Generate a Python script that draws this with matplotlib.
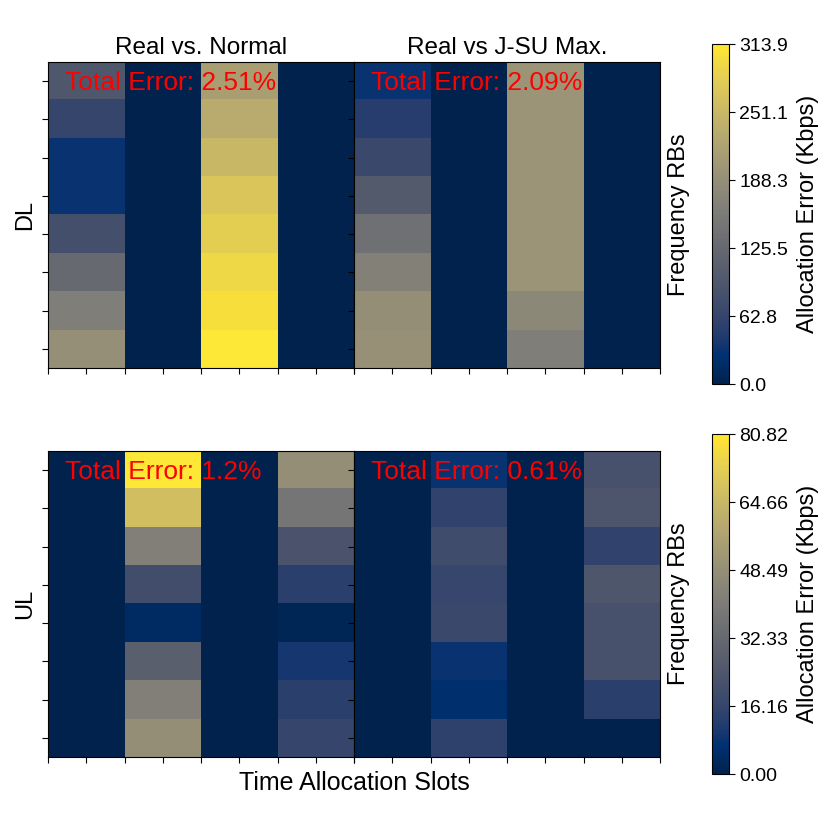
import numpy as np
import matplotlib
matplotlib.use('Agg')
import matplotlib.pyplot as plt

plt.rcParams['font.family'] = ['Liberation Sans', 'DejaVu Sans']

# rows = frequency RBs (top to bottom), columns = time allocation slots
dl_max = 313.87
ul_max = 80.82

dl_normal = np.array([
    [ 95, 0, 214, 0],
    [ 63, 0, 232, 0],
    [ 31, 0, 251, 0],
    [ 31, 0, 270, 0],
    [ 80, 0, 283, 0],
    [126, 0, 295, 0],
    [163, 0, 304, 0],
    [190, 0, 313.87, 0],
])
dl_jsu = np.array([
    [ 31, 0, 198, 0],
    [ 50, 0, 198, 0],
    [ 69, 0, 198, 0],
    [100, 0, 198, 0],
    [138, 0, 198, 0],
    [166, 0, 198, 0],
    [188, 0, 179, 0],
    [192, 0, 163, 0],
])
ul_normal = np.array([
    [0, 80.82, 0, 48.5],
    [0, 67.0, 0, 38.0],
    [0, 42.0, 0, 22.6],
    [0, 20.2, 0, 13.7],
    [0,  4.0, 0,  1.6],
    [0, 28.3, 0,  9.7],
    [0, 42.0, 0, 13.7],
    [0, 48.5, 0, 16.2],
])
ul_jsu = np.array([
    [0,  8.1, 0, 21.8],
    [0, 15.4, 0, 23.4],
    [0, 19.4, 0, 15.4],
    [0, 17.0, 0, 24.2],
    [0, 17.8, 0, 21.8],
    [0,  8.1, 0, 21.8],
    [0,  5.7, 0, 13.7],
    [0, 14.5, 0,  0.0],
])

titles = ['Real vs. Normal', 'Real vs J-SU Max.']
dl_errors = ['Total Error: 2.51%', 'Total Error: 2.09%']
ul_errors = ['Total Error: 1.2%', 'Total Error: 0.61%']

fig = plt.figure(figsize=(8.3, 8.3), dpi=100)

W = 830.0
def px_rect(x0, y0, x1, y1):
    return [x0 / W, 1 - y1 / W, (x1 - x0) / W, (y1 - y0) / W]

rows = [
    ('DL', [dl_normal, dl_jsu], dl_errors, dl_max, '%.1f', 62, 368, 44, 384),
    ('UL', [ul_normal, ul_jsu], ul_errors, ul_max, '%.2f', 451, 757, 434, 774),
]

for r, (name, mats, errs, vmax, fmt, top, bot, ctop, cbot) in enumerate(rows):
    axes = [fig.add_axes(px_rect(48, top, 354, bot)),
            fig.add_axes(px_rect(354, top, 660, bot))]
    for i, (ax, m) in enumerate(zip(axes, mats)):
        im = ax.imshow(m, cmap='cividis', vmin=0, vmax=vmax, aspect='auto',
                       extent=(0, 8, 8, 0), interpolation='nearest')
        ax.set_xticks(np.arange(9))
        ax.set_yticks(np.arange(8) + 0.5)
        ax.set_xticklabels([])
        ax.set_yticklabels([])
        ax.tick_params(length=4, width=0.8, direction='out')
        ax.text(0.055, 0.93, errs[i], transform=ax.transAxes, color='red',
                fontsize=19, va='center', ha='left')
        if r == 0:
            ax.set_title(titles[i], fontsize=17.5, pad=6)
    axes[0].set_ylabel(name, fontsize=17, labelpad=1)
    axes[1].yaxis.set_label_position('right')
    axes[1].set_ylabel('Frequency RBs', fontsize=17, labelpad=6)

    cax = fig.add_axes(px_rect(712, ctop, 729, cbot))
    cb = fig.colorbar(im, cax=cax, ticks=np.linspace(0, vmax, 6), format=fmt)
    cb.ax.tick_params(labelsize=14, length=4)
    cb.set_label('Allocation Error (Kbps)', fontsize=17, labelpad=6)

fig.text(354 / W, 1 - 783 / W, 'Time Allocation Slots', fontsize=18,
         ha='center', va='center')

fig.savefig('out.png', dpi=100)
